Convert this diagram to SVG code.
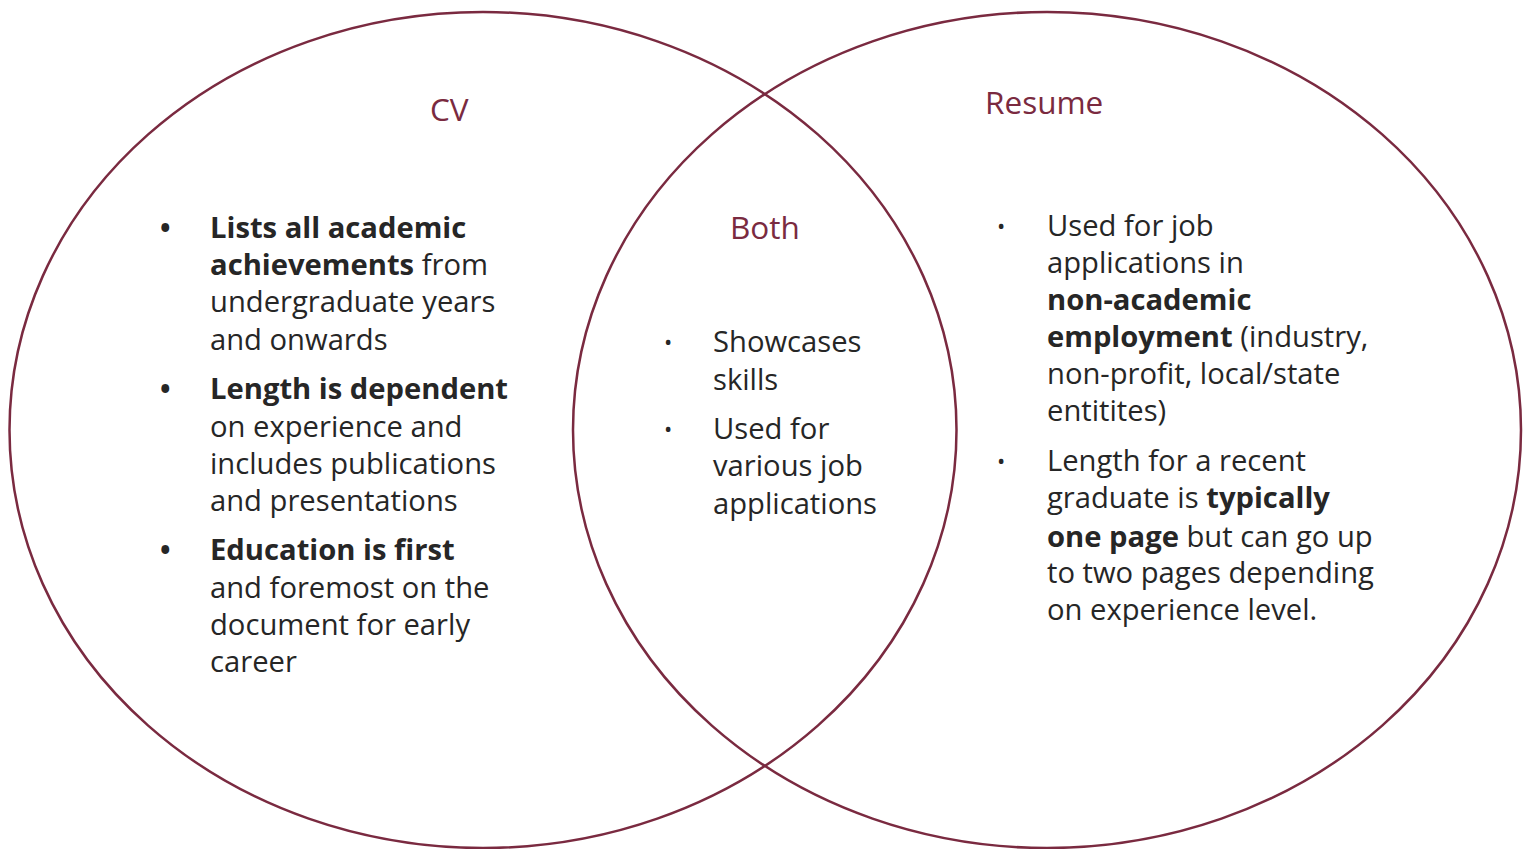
<svg xmlns="http://www.w3.org/2000/svg" width="1530" height="849" viewBox="0 0 1530 849">
  <style>
    .ring { fill: none; stroke: #7a2a40; stroke-width: 2.5; }
    .title { font-family: "Open Sans", "Noto Sans", sans-serif; font-size: 31.5px; fill: #7a2a40; }
    .body { font-family: "Open Sans", "Noto Sans", sans-serif; font-size: 29.2px; fill: #262626; }
    .b { font-weight: 700; }
    .dot-big { font-family: "Open Sans", sans-serif; font-size: 28px; font-weight: 700; fill: #262626; }
    .dot { font-family: "Open Sans", sans-serif; font-size: 22px; fill: #262626; }
  </style>
  <rect width="1530" height="849" fill="#ffffff"/>

  <g id="connectors"></g>

  <!-- CV set -->
  <g id="cv">
    <ellipse class="ring" cx="483" cy="430" rx="473.5" ry="418"/>
    <text class="title" x="430" y="121">CV</text>
    <g class="body">
      <text class="dot-big" x="160" y="238">•</text>
      <text x="210" y="238"><tspan class="b">Lists all academic</tspan></text>
      <text x="210" y="275"><tspan class="b">achievements</tspan> from</text>
      <text x="210" y="312">undergraduate years</text>
      <text x="210" y="350">and onwards</text>
      <text class="dot-big" x="160" y="399">•</text>
      <text x="210" y="399"><tspan class="b">Length is dependent</tspan></text>
      <text x="210" y="437">on experience and</text>
      <text x="210" y="474">includes publications</text>
      <text x="210" y="511">and presentations</text>
      <text class="dot-big" x="160" y="560">•</text>
      <text x="210" y="560"><tspan class="b">Education is first</tspan></text>
      <text x="210" y="598">and foremost on the</text>
      <text x="210" y="635">document for early</text>
      <text x="210" y="672">career</text>
    </g>
  </g>

  <!-- Resume set -->
  <g id="resume">
    <ellipse class="ring" cx="1047" cy="430" rx="474" ry="418"/>
    <text class="title" x="985" y="114">Resume</text>
    <g class="body">
      <text class="dot" x="997" y="234">•</text>
      <text x="1047" y="236">Used for job</text>
      <text x="1047" y="273">applications in</text>
      <text x="1047" y="310"><tspan class="b">non-academic</tspan></text>
      <text x="1047" y="347"><tspan class="b">employment</tspan> (industry,</text>
      <text x="1047" y="384">non-profit, local/state</text>
      <text x="1047" y="421">entitites)</text>
      <text class="dot" x="997" y="469">•</text>
      <text x="1047" y="471">Length for a recent</text>
      <text x="1047" y="508">graduate is <tspan class="b">typically</tspan></text>
      <text x="1047" y="547"><tspan class="b">one page</tspan> but can go up</text>
      <text x="1047" y="583">to two pages depending</text>
      <text x="1047" y="620">on experience level.</text>
    </g>
  </g>

  <!-- Shared region -->
  <g id="both">
    <text class="title" x="730" y="239">Both</text>
    <g class="body">
      <text class="dot" x="664" y="350">•</text>
      <text x="713" y="352">Showcases</text>
      <text x="713" y="390">skills</text>
      <text class="dot" x="664" y="437">•</text>
      <text x="713" y="439">Used for</text>
      <text x="713" y="476">various job</text>
      <text x="713" y="514">applications</text>
    </g>
  </g>
</svg>
